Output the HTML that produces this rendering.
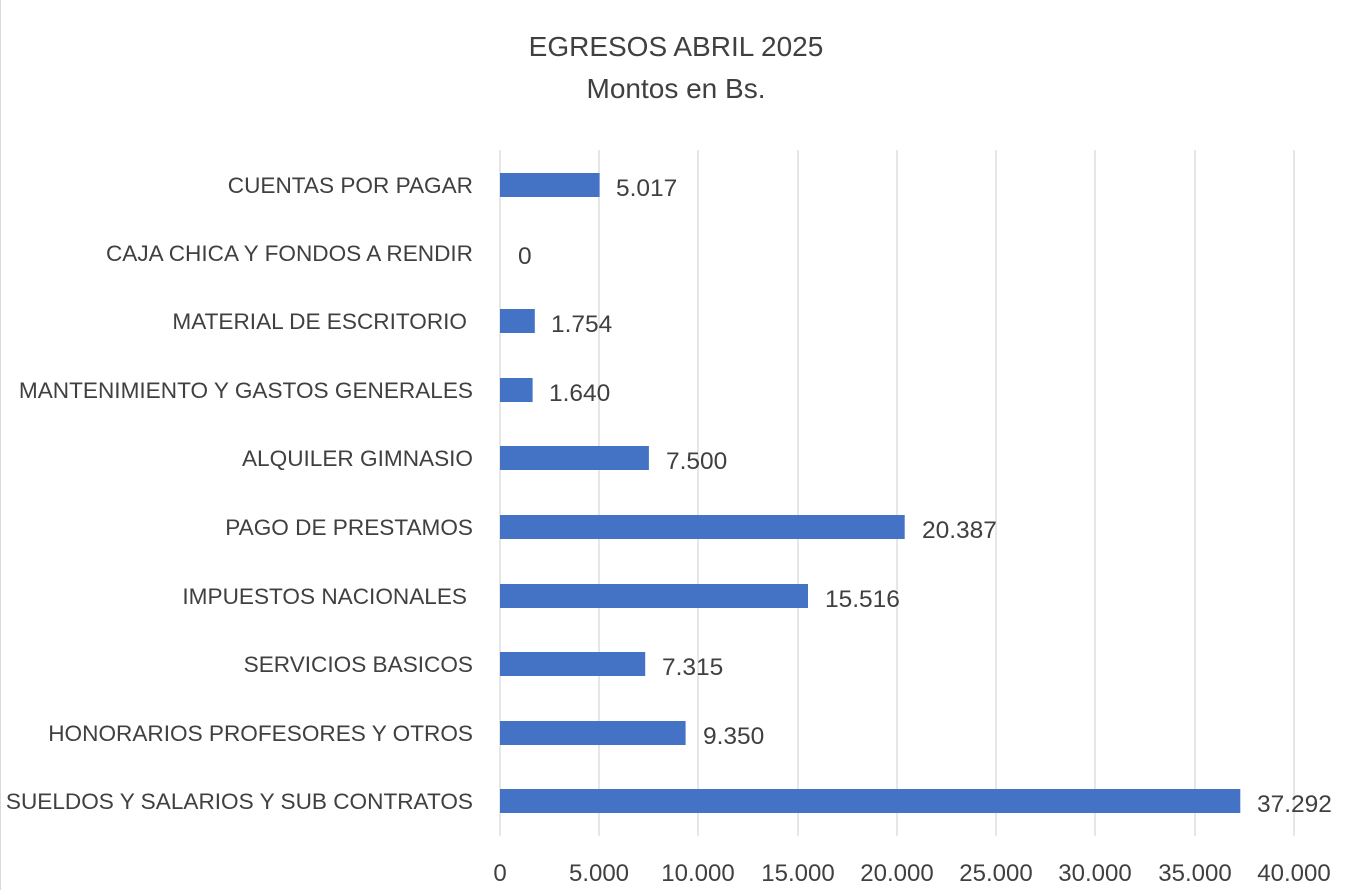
<!DOCTYPE html>
<html><head><meta charset="utf-8"><style>
body{margin:0;background:#fff;}
svg text{font-family:"Liberation Sans",sans-serif;fill:#404040;}
</style></head><body>
<svg width="1348" height="890" xmlns="http://www.w3.org/2000/svg">
<rect x="0" y="0" width="1348" height="890" fill="#fff"/>
<line x1="0.5" y1="0" x2="0.5" y2="890" stroke="#d9d9d9"/>
<text x="676" y="56" font-size="28" text-anchor="middle">EGRESOS ABRIL 2025</text>
<text x="676" y="98" font-size="28" text-anchor="middle">Montos en Bs.</text>
<g stroke="#d9d9d9" stroke-width="1.3">
<line x1="500" y1="150" x2="500" y2="836"/>
<line x1="599" y1="150" x2="599" y2="836"/>
<line x1="698" y1="150" x2="698" y2="836"/>
<line x1="798" y1="150" x2="798" y2="836"/>
<line x1="897" y1="150" x2="897" y2="836"/>
<line x1="996" y1="150" x2="996" y2="836"/>
<line x1="1095" y1="150" x2="1095" y2="836"/>
<line x1="1195" y1="150" x2="1195" y2="836"/>
<line x1="1294" y1="150" x2="1294" y2="836"/>
</g>
<g font-size="24" text-anchor="middle">
<text x="500" y="881">0</text><text x="599" y="881">5.000</text><text x="698" y="881">10.000</text><text x="798" y="881">15.000</text><text x="897" y="881">20.000</text><text x="996" y="881">25.000</text><text x="1095" y="881">30.000</text><text x="1195" y="881">35.000</text><text x="1294" y="881">40.000</text>
</g>
<g fill="#4472c4">
<rect x="500" y="173" width="99.6" height="24"/>
<rect x="500" y="309" width="34.8" height="24"/>
<rect x="500" y="378" width="32.6" height="24"/>
<rect x="500" y="446" width="148.9" height="24"/>
<rect x="500" y="515" width="404.7" height="24"/>
<rect x="500" y="584" width="308" height="24"/>
<rect x="500" y="652" width="145.2" height="24"/>
<rect x="500" y="721" width="185.6" height="24"/>
<rect x="500" y="789" width="740.3" height="24"/>
</g>
<g font-size="22.6" text-anchor="end">
<text x="473" y="193">CUENTAS POR PAGAR</text>
<text x="473" y="261">CAJA CHICA Y FONDOS A RENDIR</text>
<text x="467" y="329">MATERIAL DE ESCRITORIO</text>
<text x="473" y="398">MANTENIMIENTO Y GASTOS GENERALES</text>
<text x="473" y="466">ALQUILER GIMNASIO</text>
<text x="473" y="535">PAGO DE PRESTAMOS</text>
<text x="467" y="604">IMPUESTOS NACIONALES</text>
<text x="473" y="672">SERVICIOS BASICOS</text>
<text x="473" y="741">HONORARIOS PROFESORES Y OTROS</text>
<text x="473" y="809">SUELDOS Y SALARIOS Y SUB CONTRATOS</text>
</g>
<g font-size="24.5">
<text x="616" y="196">5.017</text>
<text x="518" y="264">0</text>
<text x="551" y="332">1.754</text>
<text x="549" y="401">1.640</text>
<text x="666" y="469">7.500</text>
<text x="922" y="538">20.387</text>
<text x="825" y="607">15.516</text>
<text x="662" y="675">7.315</text>
<text x="703" y="744">9.350</text>
<text x="1257" y="812">37.292</text>
</g>
</svg>
</body></html>
